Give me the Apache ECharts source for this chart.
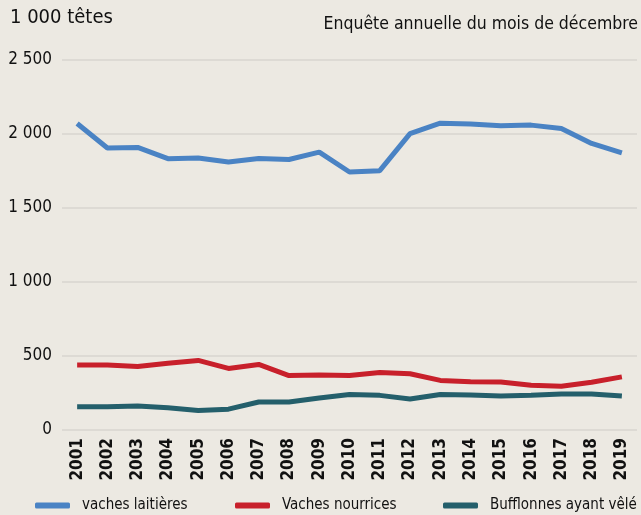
<!DOCTYPE html>
<html>
<head>
<meta charset="utf-8">
<script src="https://cdn.jsdelivr.net/npm/echarts@6/dist/echarts.min.js"></script>
<style>
  html, body { margin: 0; padding: 0; background: #ece9e2; }
  #chart { width: 641px; height: 515px; }
</style>
</head>
<body>
<div id="chart"></div>
<script>
// années
var years = ['2001', '2002', '2003', '2004', '2005', '2006', '2007', '2008', '2009', '2010',
    '2011', '2012', '2013', '2014', '2015', '2016', '2017', '2018', '2019'];

// effectifs en milliers de têtes
var vachesLaitieres = [2071, 1905, 1909, 1833, 1838, 1811, 1835, 1828, 1878, 1743,
    1752, 2003, 2073, 2067, 2055, 2060, 2037, 1936, 1873];
var vachesNourrices = [440, 440, 429, 451, 470, 416, 443, 368, 371, 368,
    389, 380, 335, 326, 324, 303, 296, 323, 359];
var bufflonnes = [157, 157, 162, 150, 132, 141, 189, 189, 216, 240,
    234, 209, 240, 237, 229, 235, 243, 243, 229];

var seriesNames = ['vaches laitières', 'Vaches nourrices', 'Bufflonnes ayant vêlé'];
var colors = ['#4a83c4', '#c8202b', '#245f6b'];

var font = "'DejaVu Sans Condensed', 'Liberation Sans Narrow', sans-serif";

var chart = echarts.init(document.getElementById('chart'));

function fmt(v) {
    return String(v).replace(/\B(?=(\d{3})+(?!\d))/g, ' ');
}

function makeSeries(name, data, color) {
    return {
        name: name,
        type: 'line',
        data: data,
        symbol: 'none',
        lineStyle: { width: 5, color: color },
        itemStyle: { color: color },
        animation: false
    };
}

function makeLegend(name, left) {
    return {
        data: [name],
        left: left,
        top: 498,
        padding: 0,
        icon: 'roundRect',
        itemWidth: 35,
        itemHeight: 6,
        itemGap: 0,
        textStyle: { fontFamily: font, fontSize: 15, color: '#111', padding: [0, 0, 0, 7] }
    };
}

chart.setOption({
    backgroundColor: '#ece9e2',
    title: [{
        text: '1 000 têtes',
        left: 10,
        top: 8,
        padding: 0,
        textStyle: { fontFamily: font, fontSize: 20, fontWeight: 'normal', color: '#111' }
    }, {
        text: 'Enquête annuelle du mois de décembre',
        right: 3,
        top: 15,
        padding: 0,
        textStyle: { fontFamily: font, fontSize: 17.5, fontWeight: 'normal', color: '#111' }
    }],
    legend: [
        makeLegend(seriesNames[0], 35),
        makeLegend(seriesNames[1], 235),
        makeLegend(seriesNames[2], 443)
    ],
    grid: { left: 62, right: 4, top: 60, bottom: 85, outerBoundsMode: 'none' },
    xAxis: {
        type: 'category',
        data: years,
        boundaryGap: true,
        axisLine: { show: false },
        axisTick: { show: false },
        axisLabel: {
            rotate: 90,
            interval: 0,
            margin: 8,
            fontFamily: font,
            fontSize: 17,
            fontWeight: 'bold',
            color: '#111'
        }
    },
    yAxis: {
        type: 'value',
        min: 0,
        max: 2500,
        interval: 500,
        axisLine: { show: false },
        axisTick: { show: false },
        splitLine: { lineStyle: { color: '#d8d5cf', width: 1.5 } },
        axisLabel: {
            margin: 10,
            fontFamily: font,
            fontSize: 17,
            color: '#111',
            formatter: fmt
        }
    },
    series: [
        makeSeries(seriesNames[0], vachesLaitieres, colors[0]),
        makeSeries(seriesNames[1], vachesNourrices, colors[1]),
        makeSeries(seriesNames[2], bufflonnes, colors[2])
    ]
});
</script>
</body>
</html>
